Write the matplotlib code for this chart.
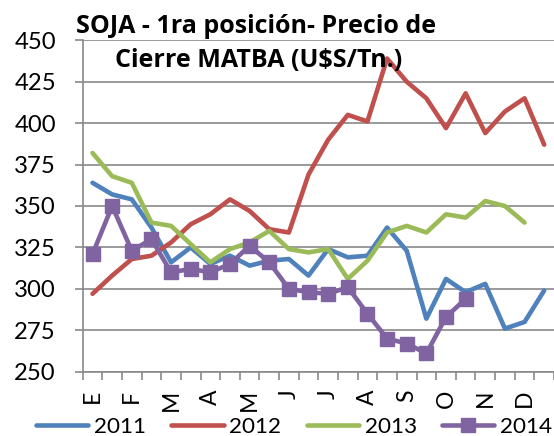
import matplotlib
matplotlib.use('Agg')
import matplotlib.pyplot as plt
import numpy as np

# ---- data (two readings per month, 24 points) ----
months = ['E', 'F', 'M', 'A', 'M', 'J', 'J', 'A', 'S', 'O', 'N', 'D']
yticks = [250, 275, 300, 325, 350, 375, 400, 425, 450]
s2011 = [364, 357, 354, 337, 316, 325, 315, 320, 314, 317, 318, 308,
         324, 319, 320, 337, 323, 282, 306, 298, 303, 276, 280, 299]
s2012 = [297, 308, 318, 320, 328, 339, 345, 354, 347, 336, 334, 369,
         390, 405, 401, 439, 425, 415, 397, 418, 394, 407, 415, 387]
s2013 = [382, 368, 364, 340, 338, 327, 316, 324, 328, 335, 324, 322,
         324, 306, 317, 334, 338, 334, 345, 343, 353, 350, 340]
s2014 = [321, 350, 323, 330, 310, 312, 310, 315, 326, 316, 300, 298,
         297, 301, 285, 270, 267, 261, 283, 294]
series_names = ['2011', '2012', '2013', '2014']
colors = ['#4F81BD', '#C0504D', '#9BBB59', '#8064A2']
title_lines = ['SOJA - 1ra posición- Precio de', 'Cierre MATBA (U$S/Tn.)']

plt.rcParams['font.family'] = ['Lato', 'DejaVu Sans']

W, H = 554, 436
fig = plt.figure(figsize=(W / 100, H / 100), dpi=100)
left, right, top, bottom = 82.7, 554, 40.3, 371.7
ax = fig.add_axes([left / W, 1 - bottom / H, (right - left) / W, (bottom - top) / H])

grid_c = '#898989'
for name, data, c in zip(series_names, [s2011, s2012, s2013, s2014], colors):
    x = np.arange(1, len(data) + 1)
    kw = dict(color=c, lw=3.3, solid_capstyle='round', solid_joinstyle='round', label=name, zorder=3)
    if name == '2014':
        kw.update(marker='s', markersize=9.5, markeredgecolor=c, markerfacecolor=c)
    ax.plot(x, data, **kw)

ax.set_ylim(250, 450)
ax.set_xlim(0.5, 0.5 + (right - left) / 20.0)
ax.set_yticks(yticks)
ax.set_yticklabels([str(v) for v in yticks])
ax.yaxis.grid(True, color=grid_c, lw=1.2, zorder=0)
ax.set_axisbelow(True)

ax.set_xticks(np.arange(0.5, 25, 1))
ax.set_xticklabels([])
ax.set_xticks(np.arange(1, 24, 2), labels=months, minor=True)
ax.tick_params(axis='x', which='major', direction='out', length=5.8, width=1.2, color=grid_c)
ax.tick_params(axis='x', which='minor', length=0, pad=13, labelsize=16.5, labelrotation=90)
ax.tick_params(axis='y', direction='out', length=5.8, width=1.2, color=grid_c, pad=13.5, labelsize=17.2)

for s in ['top', 'right']:
    ax.spines[s].set_visible(False)
for s in ['left', 'bottom']:
    ax.spines[s].set_color(grid_c)
    ax.spines[s].set_linewidth(1.2)

tfont = dict(ha='center', va='baseline', fontsize=18, fontweight='bold',
             family=['Open Sans', 'DejaVu Sans'], zorder=5)
fig.text(256 / W, 1 - 33.3 / H, title_lines[0], **tfont)
fig.text(258.3 / W, 1 - 66.7 / H, title_lines[1], **tfont)

leg = fig.legend(loc='center left', bbox_to_anchor=(36 / W, 1 - 426.5 / H), ncol=4,
                 frameon=False, fontsize=16.2, handlelength=2.33, handletextpad=0.25,
                 columnspacing=1.12, borderpad=0, borderaxespad=0, numpoints=1)

fig.savefig('out.png', dpi=100)
